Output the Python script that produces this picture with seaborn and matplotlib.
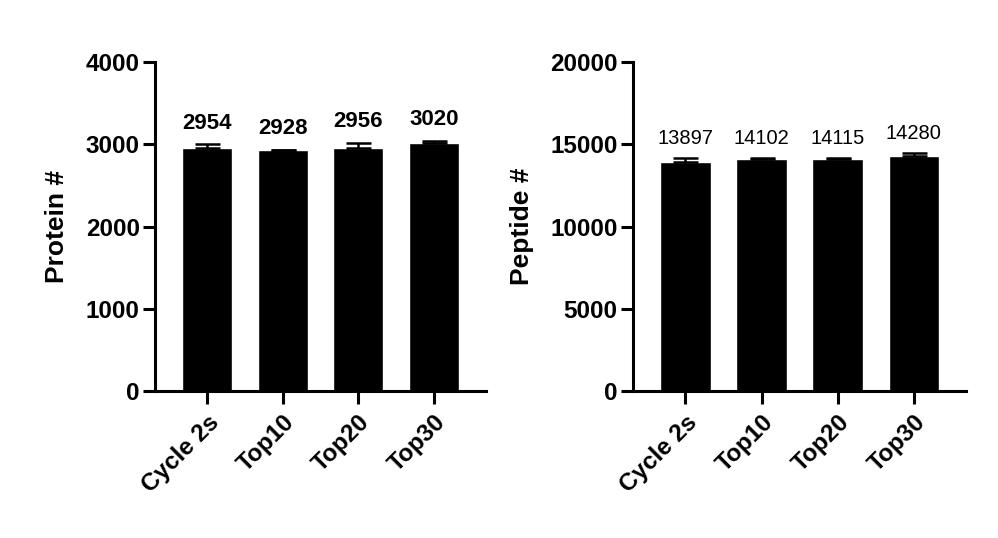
import matplotlib
matplotlib.use("Agg")
import matplotlib.pyplot as plt
import numpy as np
import pandas as pd
import seaborn as sns

# data
methods = ["Cycle 2s", "Top10", "Top20", "Top30"]
protein_mean = [2954, 2928, 2956, 3020]
protein_err = [50, 6, 65, 25]
peptide_mean = [13897, 14102, 14115, 14280]
peptide_err = [250, 50, 50, 160]

sns.set_theme(style="ticks")
plt.rcParams["font.family"] = ["Liberation Sans", "DejaVu Sans"]
plt.rcParams["font.weight"] = "bold"
plt.rcParams["text.color"] = "black"
plt.rcParams["axes.labelcolor"] = "black"
plt.rcParams["xtick.color"] = "black"
plt.rcParams["ytick.color"] = "black"


def draw_panel(ax, means, errs, ylabel, ymax, step, label_weight, label_size):
    df = pd.DataFrame({"method": methods, "value": means})
    sns.barplot(data=df, x="method", y="value", color="black", width=0.66,
                saturation=1, errorbar=None, ax=ax)
    x = np.arange(len(methods))
    ax.errorbar(x, means, yerr=[np.zeros(len(errs)), errs], fmt="none",
                ecolor="black", elinewidth=1.8, capsize=9, capthick=1.8, zorder=3)
    for xi, m, e in zip(x, means, errs):
        ax.annotate(f"{m}", (xi, m + e), xytext=(0, 7.5), textcoords="offset points",
                    ha="center", va="bottom", fontsize=label_size, fontweight=label_weight,
                    color="black")

    ax.set_xlim(-0.69, 3.69)
    ax.set_ylim(0, ymax)
    ax.set_yticks(np.arange(0, ymax + 1, step))
    ax.set_xlabel("")
    ax.set_ylabel(ylabel, fontsize=19, fontweight="bold", labelpad=12)
    sns.despine(ax=ax)
    for side in ["left", "bottom"]:
        ax.spines[side].set_linewidth(2.2)
        ax.spines[side].set_color("black")
    ax.tick_params(axis="both", width=2.2, length=9, labelsize=17.5)
    ax.tick_params(axis="y", pad=2)
    ax.tick_params(axis="x", pad=5)
    for lab in ax.get_xticklabels():
        lab.set_rotation(45)
        lab.set_ha("right")
        lab.set_rotation_mode("anchor")
        lab.set_fontweight("bold")
    for lab in ax.get_yticklabels():
        lab.set_fontweight("bold")


fig = plt.figure(figsize=(9.98, 5.38), dpi=100)
ax1 = fig.add_axes([0.1553, 0.2732, 0.3317, 0.6115])
ax2 = fig.add_axes([0.6343, 0.2732, 0.3337, 0.6115])

draw_panel(ax1, protein_mean, protein_err, "Protein #", 4000, 1000, "bold", 16)
draw_panel(ax2, peptide_mean, peptide_err, "Peptide #", 20000, 5000, "normal", 14.5)

fig.savefig("out.png", dpi=100)
